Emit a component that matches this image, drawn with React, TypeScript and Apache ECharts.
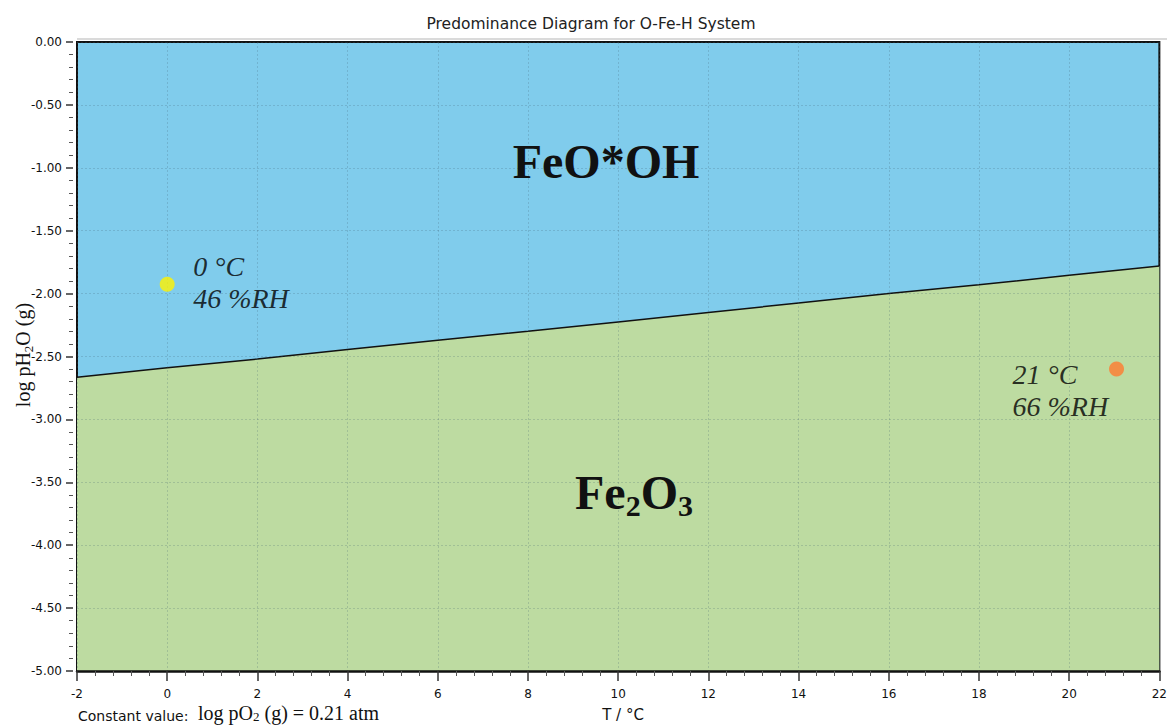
import React, { useEffect, useRef } from "react";
import * as echarts from "echarts";

// Boundary FeO*OH / Fe2O3 : log pH2O vs T
const tempX = [-2, 0, 2, 4, 6, 8, 10, 12, 14, 16, 18, 20, 22];
const boundaryY = [-2.665, -2.59, -2.52, -2.445, -2.37, -2.3, -2.225, -2.15, -2.075, -2.0, -1.93, -1.855, -1.78];

// Marked conditions
const pointT = [0, 21.05];
const pointLogP = [-1.925, -2.6];
const pointLabels = ["0 °C\n46 %RH", "21 °C\n66 %RH"];
const pointColors = ["#FFF200", "#FF7A30"];

const xTicks = { min: -2, max: 22, interval: 2 };
const yTicks = { min: -5, max: 0, interval: 0.5 };

const BLUE = "#80CCEC";
const GREEN = "#BDDBA1";

export default function App() {
  const ref = useRef<HTMLDivElement>(null);
  useEffect(() => {
    if (!ref.current) return;
    const chart = echarts.init(ref.current, null, { renderer: "svg" });
    const gridLine = { show: true, lineStyle: { color: "rgba(60,90,110,0.22)", type: [2, 2] as any, width: 1 } };
    const labelOffsets = [
      [26, -2],
      [-104, 21],
    ];
    chart.setOption({
      animation: false,
      backgroundColor: "#ffffff",
      grid: {
        left: 77,
        right: 3,
        top: 42,
        bottom: 55,
        show: true,
        backgroundColor: BLUE,
        borderColor: "#111",
        borderWidth: 2,
        z: 0,
      },
      xAxis: {
        type: "value",
        min: xTicks.min,
        max: xTicks.max,
        interval: xTicks.interval,
        z: 3,
        axisLine: { show: true, onZero: false, lineStyle: { color: "#111", width: 2.5 } },
        axisTick: { show: true, length: 10, lineStyle: { color: "#333", width: 1.5 } },
        minorTick: { show: true, splitNumber: 5, length: 5, lineStyle: { color: "#555" } },
        axisLabel: { color: "#111", fontSize: 12, fontFamily: "DejaVu Sans", margin: 17 },
        splitLine: gridLine,
      },
      yAxis: {
        type: "value",
        min: yTicks.min,
        max: yTicks.max,
        interval: yTicks.interval,
        offset: 4,
        z: 3,
        axisLine: { show: false, onZero: false },
        axisTick: { show: true, length: 7, lineStyle: { color: "#333", width: 1.5 } },
        minorTick: { show: true, splitNumber: 5, length: 4, lineStyle: { color: "#555" } },
        axisLabel: {
          color: "#111",
          fontSize: 12,
          fontFamily: "DejaVu Sans",
          margin: 11,
          formatter: (v: number) => v.toFixed(2),
        },
        splitLine: gridLine,
      },
      series: [
        {
          type: "line",
          data: tempX.map((t, i) => [t, boundaryY[i]]),
          symbol: "none",
          z: 2,
          lineStyle: { color: "#111", width: 1.5 },
          areaStyle: { color: GREEN, opacity: 1, origin: "start" },
        },
        {
          type: "scatter",
          z: 5,
          symbolSize: 15,
          data: pointT.map((t, i) => ({
            value: [t, pointLogP[i]],
            itemStyle: { color: pointColors[i] },
            label: {
              show: true,
              position: "inside",
              align: "left",
              verticalAlign: "middle",
              offset: labelOffsets[i],
              formatter: pointLabels[i],
              fontFamily: "Liberation Serif",
              fontStyle: "italic",
              fontSize: 28,
              lineHeight: 32,
              color: "#000",
              textBorderWidth: 0,
            },
          })),
        },
      ],
      graphic: [
        {
          type: "line",
          shape: { x1: 77, y1: 39, x2: 1167, y2: 39 },
          style: { stroke: "#b5b5b5", lineWidth: 1 },
        },
        {
          type: "text",
          x: 591,
          y: 24,
          style: {
            text: "Predominance Diagram for O-Fe-H System",
            fontFamily: "DejaVu Sans",
            fontSize: 15.5,
            fill: "#222",
            align: "center",
            verticalAlign: "middle",
          },
        },
        {
          type: "text",
          x: 606,
          y: 161,
          z: 10,
          style: {
            text: "FeO*OH",
            fontFamily: "Liberation Serif",
            fontWeight: "bold",
            fontSize: 48,
            fill: "#111",
            align: "center",
            verticalAlign: "middle",
          },
        },
        {
          type: "text",
          x: 634,
          y: 492,
          z: 10,
          style: {
            text: "{m|Fe}{s|2}{m|O}{s|3}",
            align: "center",
            verticalAlign: "middle",
            rich: {
              m: { fontFamily: "Liberation Serif", fontWeight: "bold", fontSize: 48, lineHeight: 56, fill: "#111", color: "#111" },
              s: { fontFamily: "Liberation Serif", fontWeight: "bold", fontSize: 30, lineHeight: 26, verticalAlign: "bottom", fill: "#111", color: "#111" },
            },
          },
        },
        {
          type: "text",
          x: 23,
          y: 355,
          rotation: Math.PI / 2,
          style: {
            text: "{m|log pH}{s|2}{m|O (g)}",
            align: "center",
            verticalAlign: "middle",
            rich: {
              m: { fontFamily: "Liberation Serif", fontSize: 20, lineHeight: 24, fill: "#111", color: "#111" },
              s: { fontFamily: "Liberation Serif", fontSize: 13, lineHeight: 12, verticalAlign: "bottom", fill: "#111", color: "#111" },
            },
          },
        },
        {
          type: "text",
          x: 623,
          y: 715,
          style: {
            text: "T / °C",
            fontFamily: "DejaVu Sans",
            fontSize: 15,
            fill: "#111",
            align: "center",
            verticalAlign: "middle",
          },
        },
        {
          type: "text",
          x: 78,
          y: 716,
          style: {
            text: "Constant value:",
            fontFamily: "DejaVu Sans",
            fontSize: 14,
            fill: "#111",
            align: "left",
            verticalAlign: "middle",
          },
        },
        {
          type: "text",
          x: 198,
          y: 713,
          style: {
            text: "{m|log pO}{s|2}{m| (g) = 0.21 atm}",
            align: "left",
            verticalAlign: "middle",
            rich: {
              m: { fontFamily: "Liberation Serif", fontSize: 20, lineHeight: 20, fill: "#111", color: "#111" },
              s: { fontFamily: "Liberation Serif", fontSize: 13, lineHeight: 8, verticalAlign: "bottom", fill: "#111", color: "#111" },
            },
          },
        },
      ],
    });
    return () => chart.dispose();
  }, []);
  return (
    <div
      ref={ref}
      style={{ position: "fixed", left: 0, top: 0, width: 1170, height: 726 }}
    />
  );
}
